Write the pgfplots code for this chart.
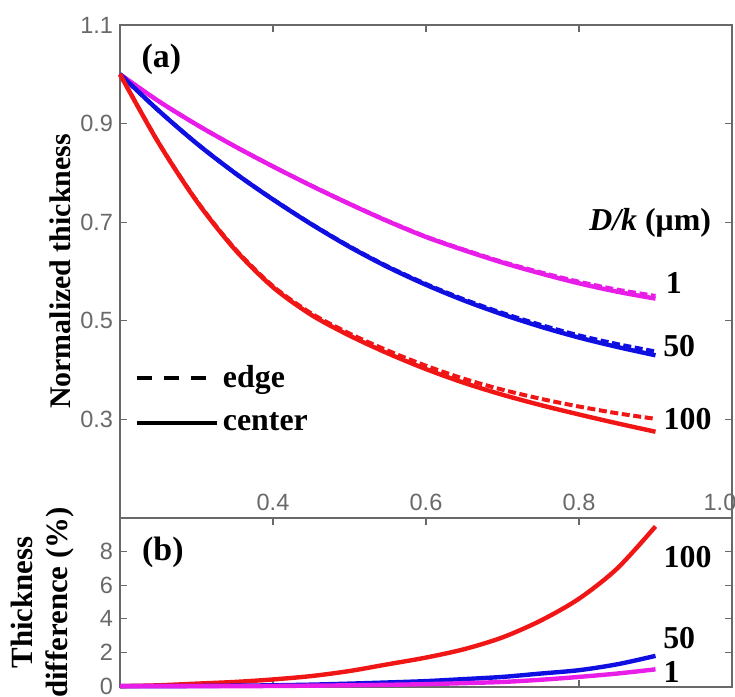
\documentclass[border=0pt]{standalone}
\usepackage{pgfplots}
\pgfplotsset{compat=1.18}
\usepackage{pgfplotstable}
\usepackage{fontspec}
\setmainfont{Liberation Serif}
\newfontfamily\ticksans{Liberation Sans}
\definecolor{cmag}{RGB}{232,30,232}
\definecolor{cblue}{RGB}{15,15,225}
\definecolor{cred}{RGB}{240,22,22}
\definecolor{axgray}{RGB}{105,105,105}

\pgfplotstableread{
x    c1    e1     c50   e50    c100  e100   d1   d50  d100
0.20 1.000 1.000  1.000 1.000  1.000 1.000  0    0    0
0.25 0.946 0.946  0.927 0.927  0.862 0.8624 0    0    0.05
0.30 0.898 0.898  0.860 0.8601 0.743 0.7441 0    0.01 0.15
0.35 0.854 0.854  0.800 0.8002 0.645 0.6466 0    0.03 0.25
0.40 0.813 0.8131 0.746 0.7464 0.568 0.5703 0.01 0.05 0.4
0.45 0.774 0.7742 0.696 0.6966 0.512 0.5151 0.03 0.09 0.6
0.50 0.737 0.7374 0.650 0.6510 0.470 0.4742 0.05 0.15 0.9
0.55 0.702 0.7026 0.609 0.6103 0.434 0.4396 0.08 0.22 1.3
0.60 0.670 0.6708 0.573 0.5747 0.402 0.4088 0.12 0.30 1.7
0.65 0.643 0.6442 0.541 0.5433 0.374 0.3822 0.18 0.42 2.2
0.70 0.618 0.6195 0.513 0.5158 0.350 0.3602 0.25 0.55 2.9
0.75 0.596 0.5983 0.488 0.4917 0.329 0.3418 0.38 0.75 3.9
0.80 0.576 0.5792 0.466 0.4704 0.310 0.3261 0.55 0.95 5.2
0.85 0.559 0.5632 0.447 0.4528 0.292 0.3124 0.75 1.3  7.0
0.90 0.545 0.5505 0.430 0.4377 0.275 0.3011 1.0  1.8  9.5
}\data

\pgfplotsset{
  panel/.style={
    scale only axis, width=306bp, xmin=0.2, xmax=1.0,
    axis line style={axgray, line width=0.6bp},
    every tick/.style={axgray, line width=0.6bp},
    tick align=inside, major tick length=3.5bp,
    ticklabel style={font=\ticksans\fontsize{11.8}{13}\selectfont, text=axgray},
    /pgf/number format/assume math mode=true,
    clip=false,
  },
  cen/.style={line width=2.2bp, smooth},
  edg/.style={line width=2bp, smooth, dash pattern=on 4bp off 1.8bp},
}

\begin{document}
\begin{tikzpicture}
\begin{axis}[panel, anchor=south west, at={(0,0)}, height=246.5bp,
  ymin=0.1, ymax=1.1,
  ytick={0.3,0.5,0.7,0.9,1.1}, ytick pos=both, yticklabel pos=left,
  yticklabel={\pgfmathprintnumber[fixed,fixed zerofill,precision=1]{\tick}},
  xtick={0.4,0.6,0.8,1.0}, xticklabels={}, xtick pos=right,
  ylabel={Normalized thickness},
  ylabel style={at={(axis description cs:-0.098,0.5)}, anchor=center,
    font=\fontsize{15}{17}\selectfont\bfseries},
  legend style={at={(axis description cs:0.014,0.327)}, anchor=north west, draw=none, fill=none,
    font=\fontsize{16}{18}\selectfont\bfseries, row sep=7bp,
    legend cell align=left},
  legend image code/.code={\draw[#1] (0bp,0bp) -- (36bp,0bp); \path (0bp,0bp) -- (40bp,0bp);},
]
\addlegendimage{black, line width=2bp, dash pattern=on 7.5bp off 6bp}
\addlegendentry{edge}
\addlegendimage{black, line width=2bp}
\addlegendentry{center}
\addplot[cmag, cen, forget plot] table[x=x, y=c1] {\data};
\addplot[cmag, edg, forget plot] table[x=x, y=e1] {\data};
\addplot[cblue, cen, forget plot] table[x=x, y=c50] {\data};
\addplot[cblue, edg, forget plot] table[x=x, y=e50] {\data};
\addplot[cred, cen, forget plot] table[x=x, y=c100] {\data};
\addplot[cred, edg, forget plot] table[x=x, y=e100] {\data};
\node[font=\fontsize{17}{19}\selectfont\bfseries] at (axis cs:0.254,1.031) {(a)};
\node[font=\fontsize{16}{18}\selectfont\bfseries] at (axis cs:0.893,0.699) {\textit{D/k} (μm)};
\node[font=\fontsize{16}{18}\selectfont\bfseries] at (axis cs:0.924,0.577) {1};
\node[font=\fontsize{16}{18}\selectfont\bfseries] at (axis cs:0.931,0.448) {50};
\node[font=\fontsize{16}{18}\selectfont\bfseries] at (axis cs:0.942,0.300) {100};
\end{axis}

\begin{axis}[panel, anchor=north west, at={(0,0)}, height=84.5bp,
  ymin=-0.05, ymax=10,
  ytick={0,2,4,6,8}, ytick pos=both, yticklabel pos=left,
  xtick={0.4,0.6,0.8}, xtick pos=both, xticklabel pos=right,
  xticklabel={\pgfmathprintnumber[fixed,fixed zerofill,precision=1]{\tick}},
  extra x ticks={1.0},
  extra x tick style={xticklabel style={xshift=-6bp}},
  ylabel={Thickness\\difference (\%)},
  ylabel style={at={(axis description cs:-0.126,0.5)}, anchor=center, align=center,
    font=\fontsize{15.5}{17.5}\selectfont\bfseries},
]
\addplot[cred, cen] table[x=x, y=d100] {\data};
\addplot[cblue, cen] table[x=x, y=d50] {\data};
\addplot[cmag, cen] table[x=x, y=d1] {\data};
\node[font=\fontsize{17}{19}\selectfont\bfseries] at (axis cs:0.256,7.95) {(b)};
\node[font=\fontsize{16}{18}\selectfont\bfseries] at (axis cs:0.942,7.65) {100};
\node[font=\fontsize{16}{18}\selectfont\bfseries] at (axis cs:0.931,2.85) {50};
\node[font=\fontsize{16}{18}\selectfont\bfseries] at (axis cs:0.921,0.83) {1};
\end{axis}
\pgfresetboundingbox
\useasboundingbox (-60bp,-89.5bp) rectangle (307.5bp,259bp);
\end{tikzpicture}
\end{document}
